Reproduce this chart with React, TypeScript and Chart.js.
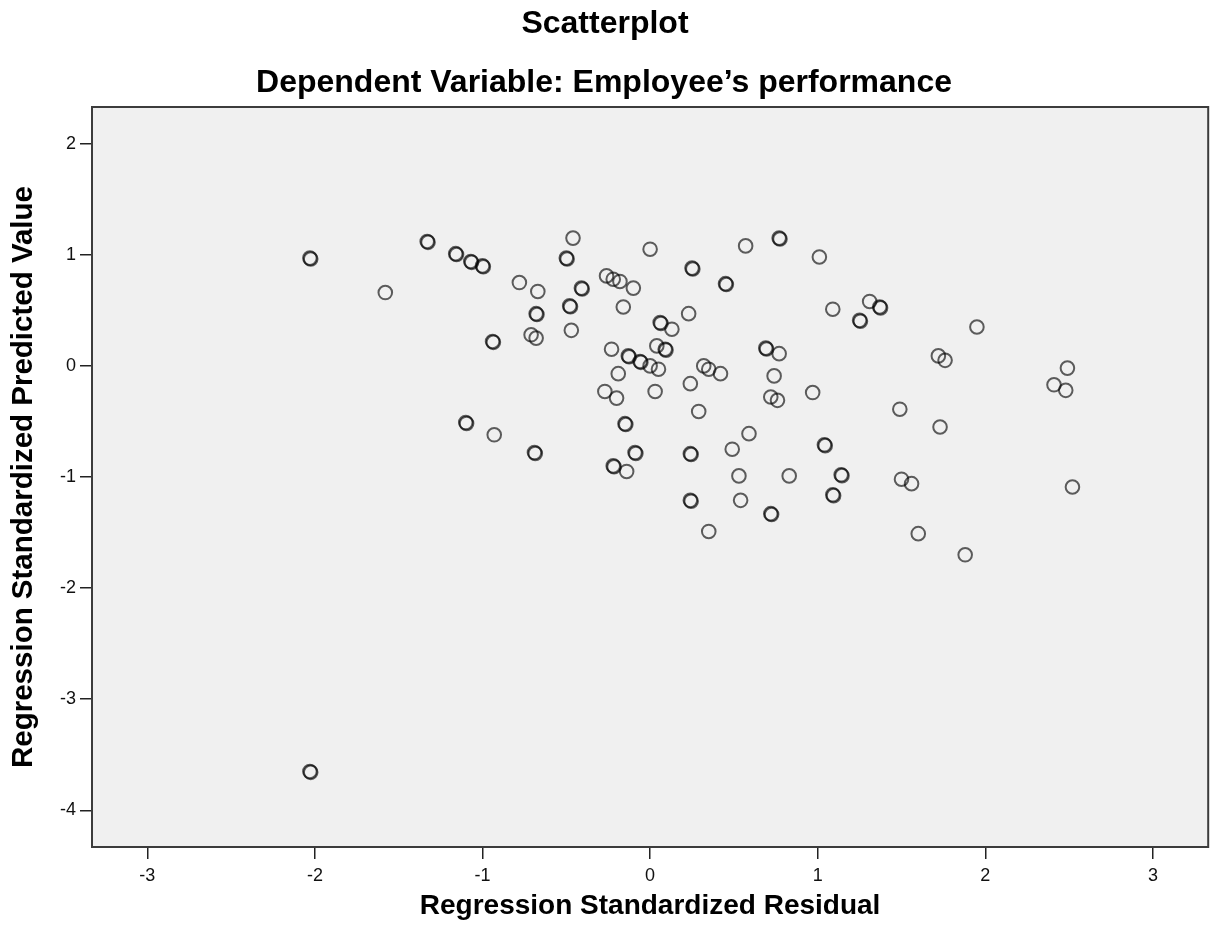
import React, { useEffect, useRef } from "react";
import { Chart, registerables } from "chart.js";

Chart.register(...registerables);

const chartTitle = "Scatterplot";
const chartSubtitle = "Dependent Variable: Employee\u2019s performance";
const xAxisTitle = "Regression Standardized Residual";
const yAxisTitle = "Regression Standardized Predicted Value";

const xTicks = [-3, -2, -1, 0, 1, 2, 3];
const yTicks = [-4, -3, -2, -1, 0, 1, 2];
const xRange = [-3.33, 3.33];
const yRange = [-4.33, 2.33];

// Regression standardized residuals (repeated cases appear as near-identical pairs)
const residual = [
  -2.03, -2.025, -2.03, -2.025, -1.58, -1.33, -1.325, -1.16, -1.155, -1.07,
  -1.065, -1.0, -0.995, -1.1, -1.095, -0.93, -0.94, -0.935, -0.78, -0.67,
  -0.68, -0.675, -0.71, -0.68, -0.69, -0.685, -0.5, -0.495, -0.46, -0.48,
  -0.475, -0.41, -0.405, -0.47, 0.0, -0.26, -0.22, -0.18, -0.1, -0.16,
  0.06, 0.065, 0.13, -0.23, 0.04, 0.09, 0.095, -0.13, -0.125, -0.06,
  -0.055, 0.0, 0.05, -0.19, -0.27, -0.2, 0.03, -0.15, -0.145, -0.09,
  -0.085, -0.22, -0.215, -0.14, 0.57, 0.77, 0.775, 1.01, 0.25, 0.255,
  0.45, 0.455, 0.23, 1.09, 1.31, 1.37, 1.375, 1.25, 1.255, 1.95,
  0.69, 0.695, 0.77, 1.72, 1.76, 0.32, 0.35, 0.42, 0.74, 0.24,
  0.72, 0.76, 0.97, 0.29, 1.49, 1.73, 0.59, 0.49, 1.04, 1.045,
  0.24, 0.245, 0.53, 0.83, 1.14, 1.145, 1.5, 1.56, 0.24, 0.245,
  0.54, 1.09, 1.095, 0.72, 0.725, 0.35, 1.6, 1.88, 2.52, 2.49,
  2.41, 2.48,
];

// Regression standardized predicted values
const predicted = [
  0.97, 0.962, -3.65, -3.658, 0.66, 1.12, 1.112, 1.01, 1.002, 0.94,
  0.932, 0.9, 0.892, -0.51, -0.518, -0.62, 0.22, 0.212, 0.75, 0.67,
  0.47, 0.462, 0.28, 0.25, -0.78, -0.788, 0.97, 0.962, 1.15, 0.54,
  0.532, 0.7, 0.692, 0.32, 1.05, 0.81, 0.78, 0.76, 0.7, 0.53,
  0.39, 0.382, 0.33, 0.15, 0.18, 0.15, 0.142, 0.09, 0.082, 0.04,
  0.032, 0.0, -0.03, -0.07, -0.23, -0.29, -0.23, -0.52, -0.528, -0.78,
  -0.788, -0.9, -0.908, -0.95, 1.08, 1.15, 1.142, 0.98, 0.88, 0.872,
  0.74, 0.732, 0.47, 0.51, 0.58, 0.53, 0.522, 0.41, 0.402, 0.35,
  0.16, 0.152, 0.11, 0.09, 0.05, 0.0, -0.03, -0.07, -0.09, -0.16,
  -0.28, -0.31, -0.24, -0.41, -0.39, -0.55, -0.61, -0.75, -0.71, -0.718,
  -0.79, -0.798, -0.99, -0.99, -0.98, -0.988, -1.02, -1.06, -1.21, -1.218,
  -1.21, -1.16, -1.168, -1.33, -1.338, -1.49, -1.51, -1.7, -1.09, -0.02,
  -0.17, -0.22,
];

const FONT = "'Liberation Sans', Arial, Helvetica, sans-serif";

const framePlugin = {
  id: "spssFrame",
  beforeDraw(chart: any) {
    const { ctx, chartArea } = chart;
    const { left, top, right, bottom } = chartArea;
    ctx.save();
    ctx.fillStyle = "#f0f0f0";
    ctx.fillRect(left, top, right - left, bottom - top);
    ctx.restore();
  },
  beforeDatasetsDraw(chart: any) {
    const { ctx, chartArea } = chart;
    const { left, top, right, bottom } = chartArea;
    ctx.save();
    ctx.strokeStyle = "#3c3c3c";
    ctx.lineWidth = 2;
    ctx.strokeRect(left, top, right - left, bottom - top);
    ctx.restore();
  },
  afterDraw(chart: any) {
    const { ctx } = chart;
    ctx.save();
    ctx.fillStyle = "#000";
    ctx.textAlign = "center";
    ctx.textBaseline = "alphabetic";
    ctx.font = `bold 32px ${FONT}`;
    ctx.fillText(chartTitle, 605, 33);
    ctx.fillText(chartSubtitle, 604, 92);
    ctx.restore();
  },
};

export default function App() {
  const canvasRef = useRef<HTMLCanvasElement | null>(null);

  useEffect(() => {
    const canvas = canvasRef.current;
    if (!canvas) return;
    const points = residual.map((x, i) => ({ x, y: predicted[i] }));
    const chart = new Chart(canvas, {
      type: "scatter",
      data: {
        datasets: [
          {
            data: points,
            pointStyle: "circle",
            pointRadius: 6.8,
            pointHoverRadius: 6.8,
            backgroundColor: "rgba(0,0,0,0)",
            borderColor: "rgba(0,0,0,0.62)",
            borderWidth: 2,
          },
        ],
      },
      options: {
        animation: false,
        responsive: false,
        devicePixelRatio: 1,
        layout: { padding: { top: 107, right: 5, bottom: 0, left: 0 } },
        plugins: {
          legend: { display: false },
          title: { display: false },
          tooltip: { enabled: false },
        },
        scales: {
          x: {
            type: "linear",
            min: xRange[0],
            max: xRange[1],
            afterBuildTicks: (scale: any) => {
              scale.ticks = xTicks.map((v) => ({ value: v }));
            },
            afterFit: (scale: any) => {
              scale.height = 92;
            },
            border: { display: false },
            grid: {
              drawOnChartArea: false,
              drawTicks: true,
              tickLength: 12,
              color: "#222",
              lineWidth: 1.5,
            },
            ticks: {
              padding: 6,
              color: "#111",
              font: { family: FONT, size: 18 },
              callback: (v: any) => String(v),
            },
            title: {
              display: true,
              text: xAxisTitle,
              color: "#000",
              font: { family: FONT, size: 28, weight: "bold" },
              padding: { top: 0, bottom: 16 },
            },
          },
          y: {
            type: "linear",
            min: yRange[0],
            max: yRange[1],
            afterBuildTicks: (scale: any) => {
              scale.ticks = yTicks.map((v) => ({ value: v }));
            },
            afterFit: (scale: any) => {
              scale.width = 92;
            },
            border: { display: false },
            grid: {
              drawOnChartArea: false,
              drawTicks: true,
              tickLength: 12,
              color: "#222",
              lineWidth: 1.5,
            },
            ticks: {
              padding: 4,
              color: "#111",
              font: { family: FONT, size: 18 },
              callback: (v: any) => String(v),
            },
            title: {
              display: true,
              text: yAxisTitle,
              color: "#000",
              font: { family: FONT, size: 29.5, weight: "bold" },
              padding: { top: 6, bottom: 0 },
            },
          },
        },
      },
      plugins: [framePlugin],
    });
    return () => chart.destroy();
  }, []);

  return (
    <div
      style={{
        position: "fixed",
        left: 0,
        top: 0,
        width: 1217,
        height: 939,
        background: "#fff",
      }}
    >
      <canvas ref={canvasRef} width={1217} height={939} />
    </div>
  );
}
